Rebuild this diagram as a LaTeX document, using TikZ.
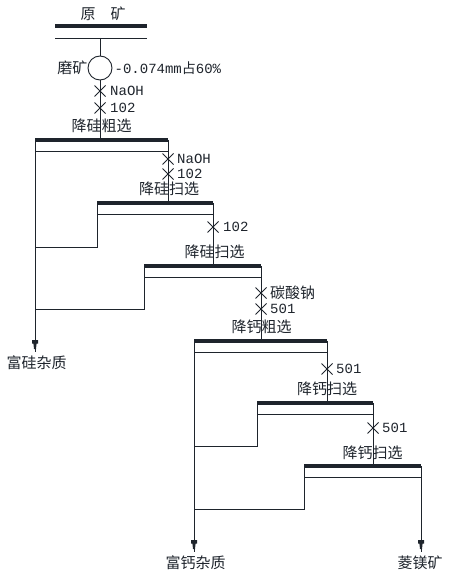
\documentclass[tikz,border=0pt]{standalone}
\usepackage{fontspec}
\newfontfamily\cjk{Noto Sans CJK SC}
\newfontfamily\lbl{Liberation Mono}
\definecolor{ink}{RGB}{30,36,44}
\begin{document}
\begin{tikzpicture}[x=1pt,y=-1pt,
  thinln/.style={line width=0.9pt, draw=ink},
  barln/.style={line width=3.2pt, draw=ink},
  cn/.style={font=\cjk\fontsize{15}{15}\selectfont, text=ink, inner sep=0pt},
  ch/.style={font=\lbl\fontsize{14}{14}\selectfont, text=ink, inner sep=0pt, anchor=west},
  xm/.pic={\draw[thinln] (-5.5,-5.5)--(5.5,5.5) (-5.5,5.5)--(5.5,-5.5);},
  tipm/.pic={\fill[ink] (-3,0)--(3,0)--(3,3.5)--(1.6,3.5)--(1,9)--(-1,9)--(-1.6,3.5)--(-3,3.5)--cycle;
             \draw[thinln] (0,9)--(0,12);}
]
\useasboundingbox (0,0) rectangle (455,578);

% feed
\node[cn] (feed) at (103,14) {原\hspace{1em}矿};
\coordinate (fbl) at (55,26); \coordinate (fbr) at (147,26);
\coordinate (ftl) at (55,38); \coordinate (ftr) at (147,38);
\draw[barln] (fbl) -- (fbr);
\draw[thinln] (ftl) -- (ftr);
\coordinate (fmid) at (100,38);
\node[circle, draw=ink, line width=0.9pt, minimum size=24pt, inner sep=0pt] (mill) at (100,68) {};
\node[cn, anchor=east] (milllab) at (mill.west) {磨矿};
\node[ch] (grind) at ([xshift=2pt]mill.east) {-0.074mm{\cjk 占}60\%};
\draw[thinln] (fmid) -- (mill.north);

% box 1
\coordinate (b1l) at (35,140); \coordinate (b1r) at (168,140);
\coordinate (b1m) at (100,140);
\draw[thinln] (mill.south) -- (b1m);
\pic at (100,91) {xm}; \node[ch] (r1) at (110,91) {NaOH};
\pic at (100,108) {xm}; \node[ch] (r2) at (110,108) {102};
\node[cn] (s1) at (101.5,126) {降硅粗选};
\draw[barln] (b1l) -- (b1r);
\draw[thinln] (35,151) -- (168,151);

% box 2
\coordinate (b2l) at (97,203); \coordinate (b2r) at (213,203);
\draw[thinln] (b1r) -- (168,203);
\pic at (168,159) {xm}; \node[ch] (r3) at (177,159) {NaOH};
\pic at (168,174) {xm}; \node[ch] (r4) at (177,174) {102};
\node[cn] (s2) at (169,189) {降硅扫选};
\draw[barln] (b2l) -- (b2r);
\draw[thinln] (97,214) -- (213,214);
\coordinate (b2j) at (35,247);
\draw[thinln] (b2l) -- (97,247) -- (b2j);

% box 3
\coordinate (b3l) at (144,266); \coordinate (b3r) at (261,266);
\draw[thinln] (b2r) -- (213,266);
\pic at (213,227) {xm}; \node[ch] (r5) at (223,227) {102};
\node[cn] (s3) at (214.5,252) {降硅扫选};
\draw[barln] (b3l) -- (b3r);
\draw[thinln] (144,277) -- (261,277);
\coordinate (b3j) at (35,309);
\draw[thinln] (b3l) -- (144,309) -- (b3j);

% silicon tail
\coordinate (siend) at (35,340);
\draw[thinln] (b1l) -- (siend);
\pic at (siend) {tipm};
\node[cn] (siout) at (36.5,363) {富硅杂质};

% box 4
\coordinate (b4l) at (194,341); \coordinate (b4r) at (327,341);
\draw[thinln] (b3r) -- (261,341);
\pic at (261,293) {xm}; \node[cn, anchor=west] (r6) at (270,293) {碳酸钠};
\pic at (261,309) {xm}; \node[ch] (r7) at (270,309) {501};
\node[cn] (s4) at (261.5,327) {降钙粗选};
\draw[barln] (b4l) -- (b4r);
\draw[thinln] (194,352) -- (327,352);

% box 5
\coordinate (b5l) at (257,403); \coordinate (b5r) at (373,403);
\draw[thinln] (b4r) -- (327,403);
\pic at (327,369) {xm}; \node[ch] (r8) at (336,369) {501};
\node[cn] (s5) at (327,389) {降钙扫选};
\draw[barln] (b5l) -- (b5r);
\draw[thinln] (257,414) -- (373,414);
\coordinate (b5j) at (194,446);
\draw[thinln] (b5l) -- (257,446) -- (b5j);

% box 6
\coordinate (b6l) at (304,466); \coordinate (b6r) at (421,466);
\draw[thinln] (b5r) -- (373,466);
\pic at (373,428) {xm}; \node[ch] (r9) at (382,428) {501};
\node[cn] (s6) at (372.5,453) {降钙扫选};
\draw[barln] (b6l) -- (b6r);
\draw[thinln] (304,477) -- (421,477);
\coordinate (b6j) at (194,509);
\draw[thinln] (b6l) -- (304,509) -- (b6j);

% outputs
\coordinate (caend) at (194,540);
\coordinate (mgend) at (421,540);
\draw[thinln] (b4l) -- (caend);
\draw[thinln] (b6r) -- (mgend);
\pic at (caend) {tipm};
\pic at (mgend) {tipm};
\node[cn] (caout) at (195.5,563) {富钙杂质};
\node[cn] (mgout) at (420,563) {菱镁矿};
\end{tikzpicture}
\end{document}
